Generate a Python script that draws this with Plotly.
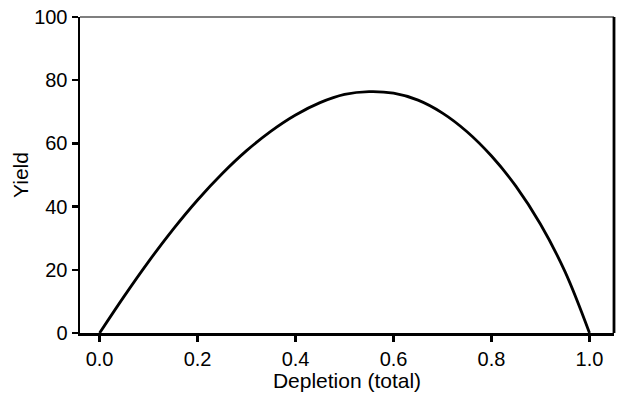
import plotly.graph_objects as go

depletion = [0.0, 0.05, 0.1, 0.15, 0.2, 0.25, 0.3, 0.35, 0.4, 0.45, 0.5,
             0.55, 0.6, 0.65, 0.7, 0.75, 0.8, 0.85, 0.9, 0.95, 1.0]
yield_vals = [0.0, 11.6, 22.6, 32.8, 42.1, 50.4, 57.7, 63.9, 69.0, 72.9, 75.5,
              76.4, 75.9, 73.7, 69.6, 63.7, 56.0, 46.4, 34.4, 19.4, 0.0]

x_ticks = [0.0, 0.2, 0.4, 0.6, 0.8, 1.0]
x_tick_text = ["0.0", "0.2", "0.4", "0.6", "0.8", "1.0"]
y_ticks = [0, 20, 40, 60, 80, 100]
y_tick_text = ["0", "20", "40", "60", "80", "100"]

fig = go.Figure()
fig.add_trace(go.Scatter(
    x=depletion, y=yield_vals, mode="lines",
    line=dict(color="black", width=2.8, shape="spline", smoothing=1.0),
    showlegend=False, hoverinfo="skip",
))

font_family = "Liberation Sans, Arial, sans-serif"
fig.update_layout(
    width=617, height=397,
    margin=dict(l=80, r=3, t=17, b=64),
    paper_bgcolor="white", plot_bgcolor="white",
    font=dict(family=font_family, size=20, color="black"),
    xaxis=dict(
        range=[-0.04, 1.05], tickvals=x_ticks, ticktext=x_tick_text,
        showgrid=False, zeroline=False,
        showline=True, linecolor="black", linewidth=2.5,
        ticks="outside", ticklen=6, tickwidth=2.5, tickcolor="black",
        ticklabeloverflow="allow",
        title=dict(text="Depletion (total)", standoff=4, font=dict(size=21)),
    ),
    yaxis=dict(
        range=[0, 100], tickvals=y_ticks, ticktext=y_tick_text,
        showgrid=False, zeroline=False,
        showline=True, linecolor="black", linewidth=2.5,
        ticks="outside", ticklen=6, tickwidth=2.5, tickcolor="black",
        ticklabeloverflow="allow",
        title=dict(text="Yield", standoff=0, font=dict(size=21)),
    ),
    shapes=[
        dict(type="line", xref="paper", yref="paper", x0=0, x1=1, y0=1, y1=1,
             line=dict(color="#555555", width=1.6)),
        dict(type="line", xref="paper", yref="paper", x0=1, x1=1, y0=0, y1=1,
             line=dict(color="black", width=2.8)),
    ],
)

fig.write_html(
    "out.html",
    config={"displayModeBar": False, "staticPlot": True},
    post_script="document.body.style.margin='0';document.body.style.overflow='hidden';",
)
